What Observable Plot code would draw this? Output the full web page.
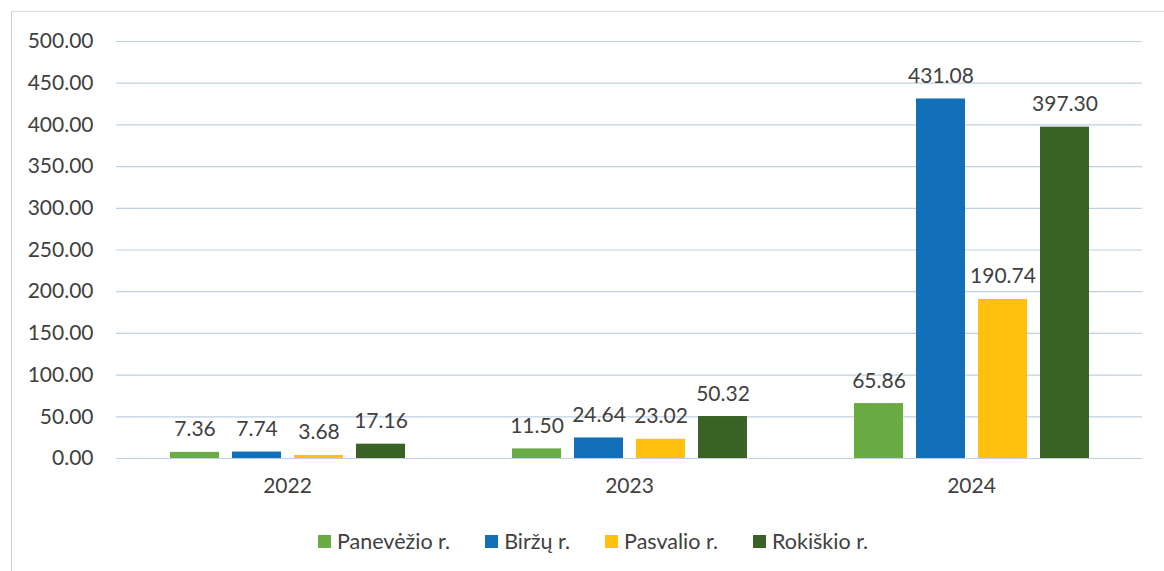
<!DOCTYPE html>
<html>
<head>
<meta charset="utf-8">
<script src="https://cdn.jsdelivr.net/npm/d3@7"></script>
<script src="https://cdn.jsdelivr.net/npm/@observablehq/plot@0.6"></script>
<style>
  html, body { margin: 0; padding: 0; background: #fff; }
  body { width: 1164px; height: 571px; position: relative; overflow: hidden; font-family: Lato, "Open Sans", sans-serif; }
  #frame { position: absolute; left: 11px; top: 11px; width: 1160px; height: 600px; border-left: 1.5px solid #cfcfcf; border-top: 1.5px solid #dcdcdc; }
  #chart { position: absolute; left: 0; top: 0; }
  #legend { position: absolute; left: 318px; top: 528px; display: flex; font-size: 21.5px; line-height: 26px; color: #404040; white-space: nowrap; }
  .item { display: flex; align-items: center; margin-right: 35px; }
  .sw { width: 13px; height: 13px; margin-right: 6px; display: inline-block; }
</style>
</head>
<body>
<div id="frame"></div>
<div id="chart"></div>
<div id="legend"></div>
<script>
const years = ["2022", "2023", "2024"];
const regions = ["Panevėžio r.", "Biržų r.", "Pasvalio r.", "Rokiškio r."];
const colors = ["#6aab43", "#1170b8", "#ffc10e", "#3a6224"];
const panevezio = [7.36, 11.50, 65.86];
const birzu = [7.74, 24.64, 431.08];
const pasvalio = [3.68, 23.02, 190.74];
const rokiskio = [17.16, 50.32, 397.30];
const yTicks = [0, 50, 100, 150, 200, 250, 300, 350, 400, 450, 500];

const series = [panevezio, birzu, pasvalio, rokiskio];
const data = [];
years.forEach((yr, i) => {
  regions.forEach((r, j) => data.push({year: yr, region: r, value: series[j][i]}));
});

const fmt = d3.format(".2f");

const chart = Plot.plot({
  width: 1164,
  height: 510,
  marginLeft: 115,
  marginRight: 21,
  marginTop: 41,
  marginBottom: 52,
  style: {fontFamily: "Lato, 'Open Sans', sans-serif", fontSize: "21px", color: "#404040", background: "transparent"},
  fx: {domain: years, padding: 0, label: null},
  x: {domain: regions, paddingInner: 0.216, paddingOuter: 0.852, axis: null},
  y: {domain: [0, 500], label: null},
  color: {domain: regions, range: colors},
  marks: [
    Plot.ruleY(yTicks, {stroke: "#bfd0e3", strokeWidth: 1.2}),
    Plot.axisY({ticks: yTicks, tickFormat: fmt, tickSize: 0, tickPadding: 23, label: null, fontSize: 21, fill: "#404040"}),
    Plot.axisFx({anchor: "bottom", tickSize: 0, tickPadding: 20, label: null, fontSize: 21, fill: "#404040"}),
    Plot.barY(data, {fx: "year", x: "region", y: "value", fill: "region"}),
    Plot.text(data, {fx: "year", x: "region", y: "value", text: d => fmt(d.value), lineAnchor: "bottom", dy: -16, fontSize: 21, fill: "#404040"})
  ]
});
document.getElementById("chart").appendChild(chart);

const legend = document.getElementById("legend");
regions.forEach((r, j) => {
  const it = document.createElement("span");
  it.className = "item";
  const sw = document.createElement("span");
  sw.className = "sw";
  sw.style.background = colors[j];
  it.appendChild(sw);
  it.appendChild(document.createTextNode(r));
  legend.appendChild(it);
});
</script>
</body>
</html>
